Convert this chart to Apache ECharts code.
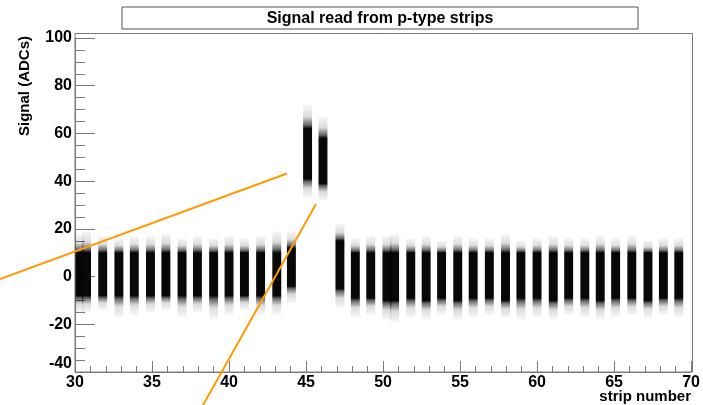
<!DOCTYPE html>
<html>
<head>
<meta charset="utf-8">
<script src="https://cdn.jsdelivr.net/npm/echarts@6/dist/echarts.min.js"></script>
<style>
  html, body { margin: 0; padding: 0; background: #fff; }
  #chart { width: 703px; height: 405px; }
</style>
</head>
<body>
<div id="chart"></div>
<script>
// strip positions (two overlapping strips at 30 and 50 make the wide bands)
var stripPos = [30.25, 30.75, 31.8, 32.85, 33.85, 34.9, 35.9, 36.95, 37.95, 39.0, 40.0, 41.0, 42.05, 43.1, 44.05,
    45.1, 46.1,
    47.2, 48.2, 49.2, 50.25, 50.75, 51.8, 52.8, 53.8, 54.85, 55.85, 56.9, 57.95, 58.95, 60.0, 61.05, 62.05, 63.1,
    64.1, 65.1, 66.15, 67.2, 68.2, 69.2];
// highest sparse hits
var tailHigh = [18, 19, 17, 16, 17, 17, 18, 16, 17, 16, 17, 16, 17, 19, 19,
    72, 67,
    22, 16, 17, 17, 18, 16, 17, 15, 17, 16, 16, 18, 15, 16, 17, 16, 16, 17, 16, 17, 15, 16, 16];
// dense core upper edge
var coreHigh = [10, 10, 10, 10, 10, 10, 10, 10, 10, 10, 10, 10, 10, 10, 12,
    62, 58,
    15, 10, 10, 10, 10, 10, 10, 10, 10, 10, 10, 10, 10, 10, 10, 10, 10, 10, 10, 10, 10, 10, 10];
// dense core lower edge
var coreLow = [-8, -8, -8, -8, -8, -8, -8, -8, -8, -8, -8, -8, -8, -8, -4,
    41, 39,
    -5, -9, -9, -10, -10, -9, -10, -9, -10, -9, -9, -10, -9, -9, -10, -9, -9, -10, -9, -9, -10, -9, -9];
// lowest sparse hits
var tailLow = [-15, -15, -14, -17, -16, -15, -14, -17, -15, -18, -16, -14, -16, -16, -11,
    33, 32,
    -13, -17, -16, -18, -19, -17, -18, -16, -18, -17, -16, -17, -18, -17, -18, -16, -17, -18, -17, -16, -17, -16, -17];

var xTicks = { min: 30, max: 70, step: 5 };
var yTicks = { min: -40, max: 100, step: 20 };

var bandHalf = 0.29;
var axisGrey = '#7a7a7a';
var font = '"Liberation Sans", Arial, Helvetica, sans-serif';

var bandData = [];
for (var i = 0; i < stripPos.length; i++) {
    bandData.push([stripPos[i], tailLow[i], coreLow[i], coreHigh[i], tailHigh[i]]);
}

// one band = sparse tails fading into a dense core
function renderBand(params, api) {
    var x = api.value(0);
    var lo = api.value(1), cLo = api.value(2), cHi = api.value(3), hi = api.value(4);
    var p1 = api.coord([x - bandHalf, hi]);
    var p2 = api.coord([x + bandHalf, lo]);
    var span = hi - lo;
    var fTop = (hi - cHi) / span;
    var fBot = (hi - cLo) / span;
    var rect = echarts.graphic.clipRectByRect({
        x: p1[0], y: p1[1], width: p2[0] - p1[0], height: p2[1] - p1[1]
    }, {
        x: params.coordSys.x, y: params.coordSys.y,
        width: params.coordSys.width, height: params.coordSys.height
    });
    if (!rect) return;
    return {
        type: 'rect',
        shape: rect,
        style: {
            fill: new echarts.graphic.LinearGradient(0, 0, 0, 1, [
                { offset: 0, color: 'rgba(0,0,0,0.03)' },
                { offset: fTop * 0.5, color: 'rgba(0,0,0,0.14)' },
                { offset: fTop * 0.85, color: 'rgba(0,0,0,0.6)' },
                { offset: fTop, color: 'rgba(0,0,0,0.97)' },
                { offset: fBot, color: 'rgba(0,0,0,0.97)' },
                { offset: fBot + (1 - fBot) * 0.15, color: 'rgba(0,0,0,0.6)' },
                { offset: (fBot + 1) / 2, color: 'rgba(0,0,0,0.14)' },
                { offset: 1, color: 'rgba(0,0,0,0.03)' }
            ])
        }
    };
}

var chart = echarts.init(document.getElementById('chart'));
var option = {
    animation: false,
    backgroundColor: '#fff',
    grid: { left: 75, right: 10.5, top: 38, bottom: 33 },
    xAxis: {
        type: 'value',
        min: xTicks.min,
        max: xTicks.max,
        interval: xTicks.step,
        axisLine: { onZero: false, lineStyle: { color: axisGrey, width: 1 } },
        axisTick: { inside: true, length: 11, lineStyle: { color: axisGrey } },
        minorTick: { show: true, splitNumber: 5, length: 6, lineStyle: { color: axisGrey } },
        splitLine: { show: false },
        axisLabel: { color: '#000', fontWeight: 'bold', fontSize: 16, fontFamily: font, margin: 3 }
    },
    yAxis: {
        type: 'value',
        min: yTicks.min,
        max: yTicks.max,
        interval: yTicks.step,
        axisLine: { show: true, onZero: false, lineStyle: { color: axisGrey, width: 1 } },
        axisTick: { show: true, inside: true, length: 20, lineStyle: { color: axisGrey } },
        minorTick: { show: true, splitNumber: 4, length: 10, lineStyle: { color: axisGrey } },
        splitLine: { show: false },
        axisLabel: {
            color: '#000', fontWeight: 'bold', fontSize: 16, fontFamily: font, margin: 3,
            verticalAlignMinLabel: 'bottom'
        }
    },
    series: [{
        type: 'custom',
        renderItem: renderBand,
        data: bandData,
        encode: { x: 0, y: [1, 4] },
        silent: true
    }],
    graphic: [
        // frame top / right
        {
            type: 'rect', z: 5, silent: true,
            shape: { x: 75, y: 33.5, width: 617.5, height: 338.5 },
            style: { fill: 'none', stroke: axisGrey, lineWidth: 1 }
        },
        // title box
        {
            type: 'rect', z: 5,
            shape: { x: 122, y: 7, width: 516, height: 22 },
            style: { fill: '#fff', stroke: '#555', lineWidth: 1 }
        },
        {
            type: 'text', z: 6,
            x: 380, y: 18.5,
            style: {
                text: 'Signal read from p-type strips', fill: '#000',
                font: 'bold 16px ' + font, textAlign: 'center', textVerticalAlign: 'middle'
            }
        },
        {
            type: 'text', z: 6,
            x: 25, y: 86, rotation: Math.PI / 2,
            style: {
                text: 'Signal (ADCs)', fill: '#000',
                font: 'bold 15px ' + font, textAlign: 'center', textVerticalAlign: 'middle'
            }
        },
        {
            type: 'text', z: 6,
            x: 691, y: 397,
            style: {
                text: 'strip number', fill: '#000',
                font: 'bold 15px ' + font, textAlign: 'right', textVerticalAlign: 'middle'
            }
        },
        // orange annotation lines
        {
            type: 'line', z: 10,
            shape: { x1: 0, y1: 279, x2: 287, y2: 173.5 },
            style: { stroke: '#ff9a00', lineWidth: 2 }
        },
        {
            type: 'line', z: 10,
            shape: { x1: 202, y1: 407, x2: 316, y2: 204 },
            style: { stroke: '#ff9a00', lineWidth: 2 }
        }
    ]
};
chart.setOption(option);
</script>
</body>
</html>
